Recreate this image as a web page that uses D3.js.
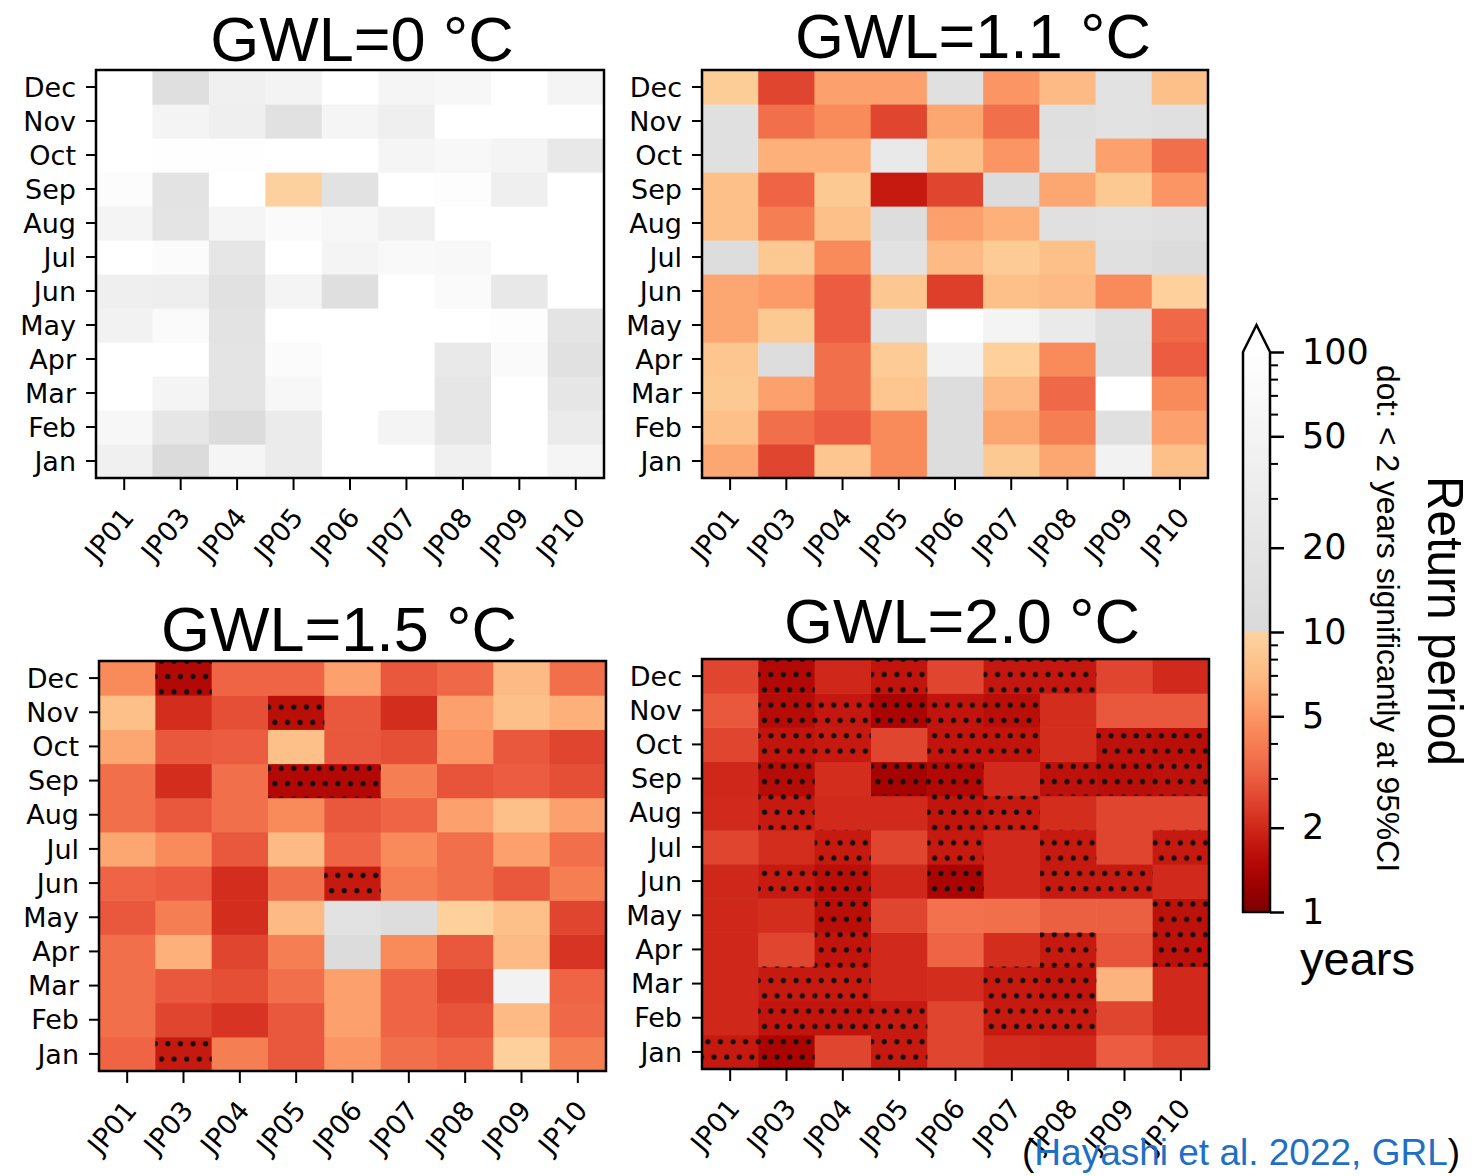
<!DOCTYPE html>
<html><head><meta charset="utf-8">
<script src="https://cdn.jsdelivr.net/npm/d3@7"></script>
<style>body{margin:0;background:#fff}svg{display:block}</style>
</head><body>
<svg id="c" width="1483" height="1176"></svg>
<script>
// ---------------- DATA ----------------
const months = ["Jan","Feb","Mar","Apr","May","Jun","Jul","Aug","Sep","Oct","Nov","Dec"];
const stations = ["JP01","JP03","JP04","JP05","JP06","JP07","JP08","JP09","JP10"];
const titles = ["GWL=0 °C","GWL=1.1 °C","GWL=1.5 °C","GWL=2.0 °C"];

// return period (years); rows Jan..Dec, columns JP01..JP10
const gwl00 = [
  [40, 11, 55, 30, 150, 150, 40, 150, 55],
  [60, 22, 12, 30, 150, 50, 22, 150, 30],
  [150, 50, 20, 60, 150, 150, 22, 150, 22],
  [150, 150, 20, 80, 150, 150, 27, 75, 16],
  [45, 75, 18, 150, 150, 150, 150, 90, 20],
  [38, 35, 16, 50, 14, 150, 75, 25, 150],
  [150, 80, 22, 150, 50, 70, 65, 150, 150],
  [50, 20, 55, 75, 60, 40, 150, 150, 150],
  [85, 18, 150, 9.6, 17, 150, 90, 38, 150],
  [150, 95, 95, 150, 150, 55, 65, 50, 25],
  [150, 50, 38, 16, 55, 38, 150, 150, 150],
  [150, 14, 40, 48, 150, 55, 60, 150, 50]
];
const gwl11 = [
  [5.8, 2.5, 8, 4.5, 13, 8.5, 5.8, 45, 7.5],
  [7.5, 3.5, 3, 4.5, 13, 5.8, 4, 15, 5.5],
  [8.5, 5.5, 3.5, 8, 13, 7, 3.3, 150, 4.5],
  [8, 13, 3.5, 8.8, 45, 9.5, 4.5, 14, 3],
  [5.8, 8.5, 3, 17, 150, 50, 28, 15, 3.3],
  [5.8, 5.2, 3, 8.3, 2.4, 7.5, 7, 4.5, 9.5],
  [13, 8.5, 4.5, 17, 7, 8.8, 7.5, 15, 12],
  [7.5, 4, 7.5, 13, 5.5, 6.3, 15, 17, 15],
  [7.5, 3.2, 8.5, 1.8, 2.5, 12, 5.8, 8.5, 5],
  [15, 6.3, 6.3, 27, 7.5, 5, 15, 5.5, 3.5],
  [15, 3.5, 4.5, 2.5, 5.8, 3.5, 14, 17, 15],
  [9, 2.5, 5.5, 5.5, 15, 5, 7, 17, 7.5]
];
const gwl15 = [
  [3.2, 1.8, 4, 2.9, 5, 3.5, 3.2, 9.5, 4],
  [3.5, 2.5, 2.2, 2.9, 5.5, 3.2, 2.8, 7, 3.3],
  [3.5, 2.9, 2.7, 3.5, 5.5, 3.2, 2.5, 45, 3.2],
  [3.5, 6.3, 2.5, 4, 12, 4.5, 2.9, 7, 2.2],
  [2.9, 4, 2.1, 7, 17, 13, 9.5, 7.5, 2.5],
  [3.2, 3, 2.1, 3.5, 1.8, 4, 3.5, 2.9, 4],
  [5.8, 4.5, 2.9, 7, 3.2, 4.5, 3.5, 5.5, 3.5],
  [3.5, 2.9, 3.5, 4.5, 2.9, 3.2, 5.5, 7.5, 5.5],
  [3.5, 2.1, 3.5, 1.5, 1.5, 4, 2.8, 3, 2.7],
  [5.8, 2.9, 3, 7.5, 2.9, 2.7, 5, 2.9, 2.5],
  [7.5, 2.1, 2.7, 1.6, 2.9, 2.1, 5.5, 7.5, 6.3],
  [4.5, 1.5, 3.2, 3.2, 5.5, 2.9, 3.3, 7, 3.5]
];
const gwl20 = [
  [1.8, 1.4, 2.5, 1.8, 2.5, 2.1, 2.05, 3, 2.5],
  [2, 1.7, 1.7, 1.8, 2.5, 1.8, 1.8, 2.5, 2.05],
  [2, 1.8, 1.8, 2.05, 2.1, 1.8, 1.7, 6.5, 2.05],
  [2, 2.5, 1.7, 2.05, 3.2, 2.1, 1.8, 2.8, 1.65],
  [2, 2.1, 1.6, 2.5, 3.6, 3.5, 3.1, 3.1, 1.65],
  [2, 1.8, 1.6, 2, 1.4, 2.05, 1.8, 1.8, 2.05],
  [2.5, 2.1, 1.8, 2.5, 1.8, 2.05, 1.8, 2.5, 1.8],
  [2.05, 1.8, 2.05, 2.05, 1.7, 1.8, 2.1, 2.5, 2.5],
  [2, 1.55, 2.1, 1.35, 1.5, 2.05, 1.65, 1.6, 1.65],
  [2.5, 1.7, 1.8, 2.5, 1.7, 1.7, 2.1, 1.65, 1.6],
  [2.9, 1.55, 1.75, 1.4, 1.7, 1.6, 2.1, 2.9, 2.9],
  [2.5, 1.5, 2, 1.7, 2.5, 1.75, 1.75, 2.5, 2.05]
];
// significance dots (< 2 years significantly at 95% CI); rows Jan..Dec
const sig15 = [
  [0,1,0,0,0,0,0,0,0],
  [0,0,0,0,0,0,0,0,0],
  [0,0,0,0,0,0,0,0,0],
  [0,0,0,0,0,0,0,0,0],
  [0,0,0,0,0,0,0,0,0],
  [0,0,0,0,1,0,0,0,0],
  [0,0,0,0,0,0,0,0,0],
  [0,0,0,0,0,0,0,0,0],
  [0,0,0,1,1,0,0,0,0],
  [0,0,0,0,0,0,0,0,0],
  [0,0,0,1,0,0,0,0,0],
  [0,1,0,0,0,0,0,0,0]
];
const sig20 = [
  [1,1,0,1,0,0,0,0,0],
  [0,1,1,1,0,1,1,0,0],
  [0,1,1,0,0,1,1,0,0],
  [0,0,1,0,0,0,1,0,1],
  [0,0,1,0,0,0,0,0,1],
  [0,1,1,0,1,0,1,1,0],
  [0,0,1,0,1,0,1,0,1],
  [0,1,0,0,1,1,0,0,0],
  [0,1,0,1,1,0,1,1,1],
  [0,1,1,0,1,1,0,1,1],
  [0,1,1,1,1,1,0,0,0],
  [0,1,0,1,0,1,1,0,0]
];
const cbarTicks = [1, 2, 5, 10, 20, 50, 100];
const cbarMinor = [3, 4, 6, 7, 8, 9, 30, 40, 60, 70, 80, 90];

// ---------------- COLOUR ----------------
const grey = d3.interpolateRgb("#d9d9d9", "#ffffff");
function color(v) {
  if (v <= 10) return d3.interpolateOrRd(1 - 0.75 * Math.log10(Math.max(v, 1)));
  return grey(Math.min(1, Math.log10(v / 10)));
}

// ---------------- LAYOUT ----------------
const svg = d3.select("#c");
svg.append("rect").attr("width", 1483).attr("height", 1176).attr("fill", "#fff");
const defs = svg.append("defs");

const panels = [
  {data: gwl00, sig: null,  x0: 96,  x1: 604,  y0: 70,  y1: 478,  tx: 362, ty: 61},
  {data: gwl11, sig: null,  x0: 702, x1: 1208, y0: 70,  y1: 478,  tx: 973, ty: 58},
  {data: gwl15, sig: sig15, x0: 99,  x1: 606,  y0: 661, y1: 1071, tx: 339, ty: 651},
  {data: gwl20, sig: sig20, x0: 702, x1: 1209, y0: 659, y1: 1069, tx: 962, ty: 643}
];

const tickFont = "'DejaVu Sans', sans-serif";
const arialFont = "'Liberation Sans', Arial, sans-serif";

panels.forEach((p, pi) => {
  const x = d3.scaleBand().domain(stations).range([p.x0, p.x1]);
  const y = d3.scaleBand().domain(months).range([p.y1, p.y0]);
  const g = svg.append("g");
  const cells = [];
  p.data.forEach((row, mi) => row.forEach((v, si) =>
    cells.push({m: months[mi], s: stations[si], v, sig: p.sig ? p.sig[mi][si] : 0})));

  g.selectAll("rect.cell").data(cells).join("rect").attr("class", "cell")
    .attr("x", d => x(d.s)).attr("y", d => y(d.m))
    .attr("width", x.bandwidth() + 0.6).attr("height", y.bandwidth() + 0.6)
    .attr("fill", d => color(d.v));

  if (p.sig) {
    const pat = defs.append("pattern").attr("id", "dots" + pi)
      .attr("patternUnits", "userSpaceOnUse")
      .attr("x", p.x0 + 2.7).attr("y", p.y0 + 7.9)
      .attr("width", 12.6).attr("height", 30.6);
    pat.append("circle").attr("cx", 3.15).attr("cy", 7.65).attr("r", 2.6).attr("fill", "#111");
    pat.append("circle").attr("cx", 9.45).attr("cy", 22.95).attr("r", 2.6).attr("fill", "#111");
    g.selectAll("rect.dot").data(cells.filter(d => d.sig)).join("rect").attr("class", "dot")
      .attr("x", d => x(d.s)).attr("y", d => y(d.m))
      .attr("width", x.bandwidth()).attr("height", y.bandwidth())
      .attr("fill", `url(#dots${pi})`);
  }

  g.append("rect").attr("x", p.x0).attr("y", p.y0)
    .attr("width", p.x1 - p.x0).attr("height", p.y1 - p.y0)
    .attr("fill", "none").attr("stroke", "#000").attr("stroke-width", 2.5);

  const ya = g.append("g").attr("transform", `translate(${p.x0},0)`)
    .call(d3.axisLeft(y).tickSize(10).tickPadding(10));
  const xa = g.append("g").attr("transform", `translate(0,${p.y1})`)
    .call(d3.axisBottom(x).tickSize(12));
  [ya, xa].forEach(a => {
    a.select(".domain").remove();
    a.attr("font-size", 27).attr("font-family", tickFont);
    a.selectAll(".tick line").attr("stroke", "#000").attr("stroke-width", 2);
    a.selectAll(".tick text").attr("fill", "#000");
  });
  ya.selectAll(".tick text").attr("dy", "0.36em");
  xa.selectAll(".tick text")
    .attr("x", 0).attr("y", 0).attr("dy", 0)
    .attr("text-anchor", "end")
    .attr("transform", "translate(11,40) rotate(-50)");

  g.append("text").attr("x", p.tx).attr("y", p.ty)
    .attr("text-anchor", "middle").attr("font-family", arialFont)
    .attr("font-size", 63).attr("fill", "#000").text(titles[pi]);
});

// ---------------- COLORBAR ----------------
const cb = {x0: 1243, x1: 1270, top: 352, bottom: 912, tip: 325};
const cy = d3.scaleLog().domain([1, 100]).range([cb.bottom, cb.top]);
const grad = defs.append("linearGradient").attr("id", "cbgrad")
  .attr("gradientUnits", "userSpaceOnUse")
  .attr("x1", 0).attr("x2", 0).attr("y1", cb.bottom).attr("y2", cb.top);
const stops = [];
for (let i = 0; i <= 100; i++) {
  const lv = i / 50;
  const v = Math.pow(10, lv);
  if (i === 50) {
    stops.push({o: 0.5, c: color(10)});
    stops.push({o: 0.5, c: color(10.0001)});
  } else stops.push({o: lv / 2, c: color(v)});
}
grad.selectAll("stop").data(stops).join("stop")
  .attr("offset", d => d.o).attr("stop-color", d => d.c);

const cg = svg.append("g");
cg.append("rect").attr("x", cb.x0).attr("y", cy(100))
  .attr("width", cb.x1 - cb.x0).attr("height", cy(1) - cy(100))
  .attr("fill", "url(#cbgrad)");
cg.append("path")
  .attr("d", `M${cb.x0},${cy(100)} L${(cb.x0 + cb.x1) / 2},${cb.tip} L${cb.x1},${cy(100)} Z`)
  .attr("fill", color(150));
cg.append("path")
  .attr("d", `M${cb.x0},${cy(1)} L${cb.x0},${cy(100)} L${(cb.x0 + cb.x1) / 2},${cb.tip} L${cb.x1},${cy(100)} L${cb.x1},${cy(1)} Z`)
  .attr("fill", "none").attr("stroke", "#000").attr("stroke-width", 2.5);

const ca = cg.append("g").attr("transform", `translate(${cb.x1},0)`)
  .call(d3.axisRight(cy).tickValues(cbarTicks).tickFormat(d3.format("d")).tickSize(14).tickPadding(18));
ca.select(".domain").remove();
ca.attr("font-size", 35).attr("font-family", tickFont);
ca.selectAll(".tick line").attr("stroke", "#000").attr("stroke-width", 2.5);
ca.selectAll(".tick text").attr("fill", "#000");
const cm = cg.append("g").attr("transform", `translate(${cb.x1},0)`)
  .call(d3.axisRight(cy).tickValues(cbarMinor).tickFormat("").tickSize(8));
cm.select(".domain").remove();
cm.selectAll(".tick line").attr("stroke", "#000").attr("stroke-width", 2);

cg.append("text").attr("x", 1300).attr("y", 975)
  .attr("font-family", arialFont).attr("font-size", 47).attr("fill", "#000").text("years");
cg.append("text").attr("transform", "translate(1428,476) rotate(90)")
  .attr("font-family", arialFont).attr("font-size", 50).attr("fill", "#000")
  .attr("textLength", 290).attr("lengthAdjust", "spacingAndGlyphs").text("Return period");
cg.append("text").attr("transform", "translate(1377,365) rotate(90)")
  .attr("font-family", arialFont).attr("font-size", 31).attr("fill", "#000")
  .attr("textLength", 507).attr("lengthAdjust", "spacingAndGlyphs")
  .text("dot: < 2 years significantly at 95%CI");

// citation
const cit = svg.append("text").attr("x", 1022).attr("y", 1165)
  .attr("font-family", arialFont).attr("font-size", 37).attr("fill", "#000");
cit.append("tspan").text("(");
cit.append("tspan").attr("fill", "#1f6fc5").text("Hayashi et al. 2022, GRL");
cit.append("tspan").text(")");
</script>
</body></html>
